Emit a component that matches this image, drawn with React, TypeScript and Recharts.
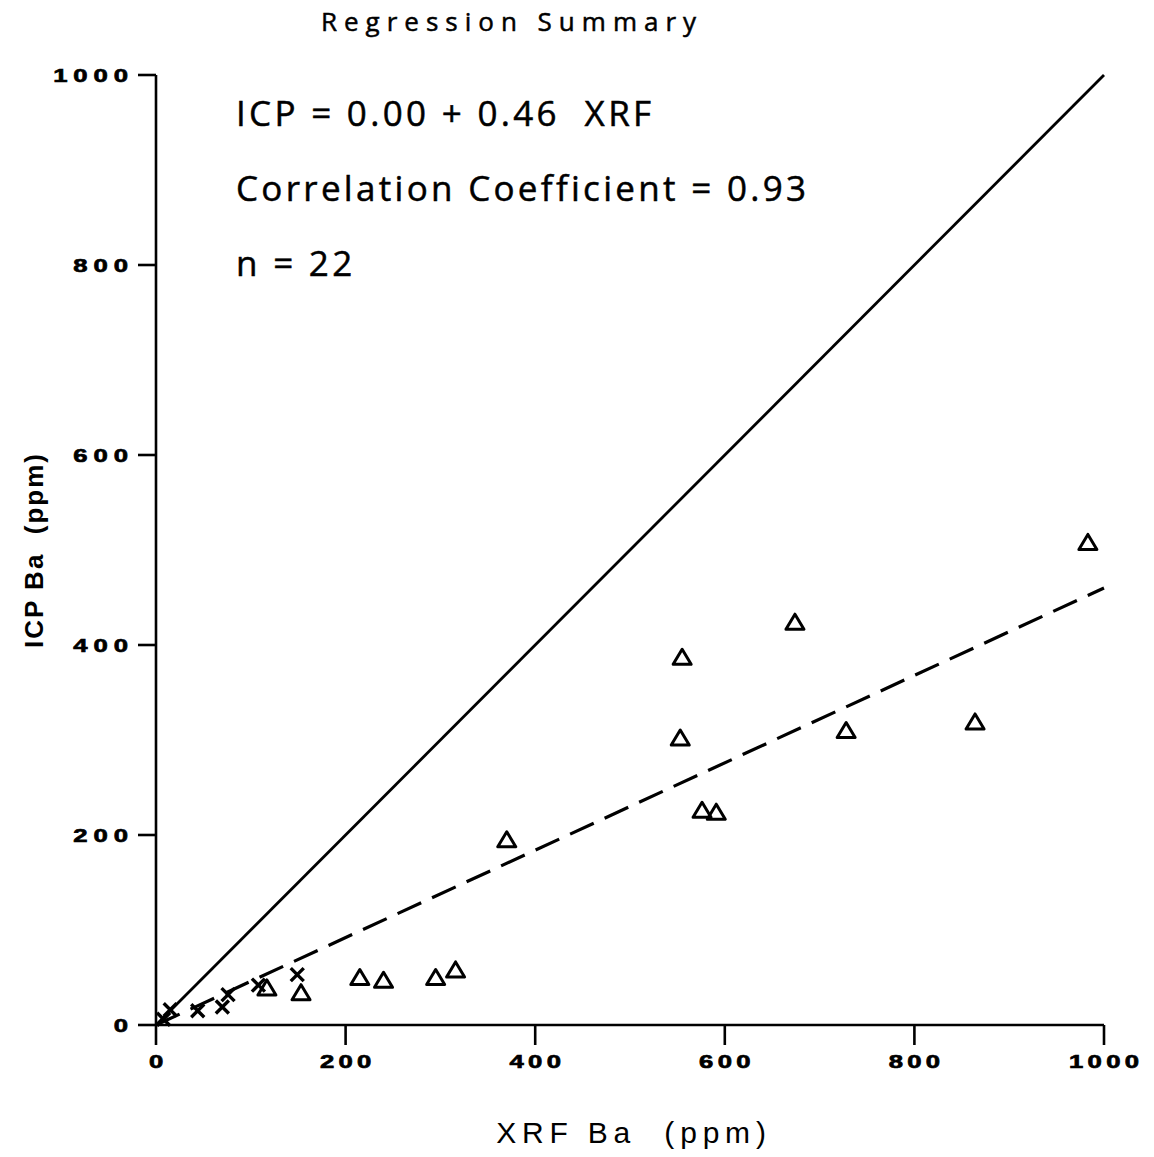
import {
  ScatterChart,
  Scatter,
  XAxis,
  YAxis,
  Label,
} from "recharts";

// readings (ppm)
const triXrf = [983, 674, 555, 553, 728, 864, 576, 591, 370, 316, 295, 240, 215, 153, 117];
const triIcp = [508, 424, 387, 302, 310, 319, 226, 224, 195, 58, 50, 47, 50, 34, 39];
const crossXrf = [8, 15, 44, 70, 76, 108, 149];
const crossIcp = [6, 16, 15, 19, 32, 42, 53];

const axisTicks = [0, 200, 400, 600, 800, 1000];
const intercept = 0.0;
const slope = 0.46;
const lineEnds = [0, 1000];

const triangles = triXrf.map((x, i) => ({ x, y: triIcp[i] }));
const crosses = crossXrf.map((x, i) => ({ x, y: crossIcp[i] }));
const oneToOne = lineEnds.map((x) => ({ x, y: x }));
const fitLine = lineEnds.map((x) => ({ x, y: intercept + slope * x }));

const W = 1138;
const H = 1141;

const Triangle = (props: any) => {
  const { cx, cy } = props;
  return (
    <path
      d={`M${cx},${cy - 8} L${cx + 9},${cy + 7} L${cx - 9},${cy + 7} Z`}
      fill="none"
      stroke="#000"
      strokeWidth={3}
      strokeLinejoin="round"
    />
  );
};

const Cross = (props: any) => {
  const { cx, cy } = props;
  const s = 6.5;
  return (
    <path
      d={`M${cx - s},${cy - s} L${cx + s},${cy + s} M${cx + s},${cy - s} L${cx - s},${cy + s}`}
      stroke="#000"
      strokeWidth={3.4}
    />
  );
};

const NoDot = () => null;

const textFont = "'Open Sans', 'Noto Sans', sans-serif";

// wide, bold tick digits like the old plotter lettering
const XTick = (props: any) => {
  const { x, y, payload } = props;
  const ls = 3.2;
  return (
    <g transform={`translate(${x},${y})`}>
      <text
        transform="scale(1.35,1)"
        textAnchor="middle"
        dx={ls / 2}
        dy="0.71em"
        fontFamily="'Liberation Sans', Arial, sans-serif"
        fontWeight={700}
        fontSize={19}
        letterSpacing={ls}
        fill="#000"
        stroke="#000"
        strokeWidth={0.7}
      >
        {payload.value}
      </text>
    </g>
  );
};

const YTick = (props: any) => {
  const { x, y, payload } = props;
  const ls = 4.4;
  return (
    <g transform={`translate(${x},${y})`}>
      <text
        transform="scale(1.35,1)"
        textAnchor="end"
        dx={ls}
        dy="0.36em"
        fontFamily="'Liberation Sans', Arial, sans-serif"
        fontWeight={700}
        fontSize={19}
        letterSpacing={ls}
        fill="#000"
        stroke="#000"
        strokeWidth={0.7}
      >
        {payload.value}
      </text>
    </g>
  );
};

export default function App() {
  return (
    <div style={{ position: "relative", width: W, height: H, background: "#fff" }}>
      <div
        style={{
          position: "absolute",
          left: 0,
          width: 1008,
          top: -5,
          textAlign: "center",
          fontFamily: textFont,
          fontSize: 26,
          letterSpacing: 7,
          color: "#000",
          whiteSpace: "nowrap",
          WebkitTextStroke: "0.5px #000",
        }}
      >
        Regression Summary
      </div>
      <div
        style={{
          position: "absolute",
          left: 228,
          top: 67,
          fontFamily: textFont,
          fontSize: 35,
          letterSpacing: 3.3,
          lineHeight: "75px",
          color: "#000",
          whiteSpace: "pre",
          WebkitTextStroke: "0.5px #000",
        }}
      >
        <div>{"ICP = 0.00 + 0.46  XRF"}</div>
        <div>{"Correlation Coefficient = 0.93"}</div>
        <div>{"n = 22"}</div>
      </div>
      <ScatterChart
        width={W}
        height={H}
        margin={{ top: 67, right: 42, bottom: 4, left: 0 }}
      >
        <XAxis
          type="number"
          dataKey="x"
          domain={[0, 1000]}
          ticks={axisTicks}
          height={120}
          tickSize={20}
          tickMargin={10}
          axisLine={{ stroke: "#000", strokeWidth: 2.6 }}
          tickLine={{ stroke: "#000", strokeWidth: 2.6 }}
          tick={<XTick />}
        >
          <Label
            value={"XRF Ba\u00a0\u00a0(ppm)"}
            position="insideBottom"
            offset={2}
            dx={4}
            style={{
              fontFamily: "'Liberation Sans', Arial, sans-serif",
              fontSize: 30,
              letterSpacing: 5.8,
              fill: "#000",
            }}
          />
        </XAxis>
        <YAxis
          type="number"
          dataKey="y"
          domain={[0, 1000]}
          ticks={axisTicks}
          width={148}
          tickSize={18}
          tickMargin={10}
          axisLine={{ stroke: "#000", strokeWidth: 2.6 }}
          tickLine={{ stroke: "#000", strokeWidth: 2.6 }}
          tick={<YTick />}
        >
          <Label
            value={"ICP Ba\u00a0\u00a0(ppm)"}
            angle={-90}
            position="insideLeft"
            offset={26}
            style={{
              textAnchor: "middle",
              fontFamily: "'Liberation Sans', Arial, sans-serif",
              fontWeight: 700,
              fontSize: 26,
              letterSpacing: 2,
              fill: "#000",
            }}
          />
        </YAxis>
        <Scatter
          data={oneToOne}
          line={{ stroke: "#000", strokeWidth: 2.8 }}
          shape={NoDot}
          isAnimationActive={false}
        />
        <Scatter
          data={fitLine}
          line={{ stroke: "#000", strokeWidth: 3.2, strokeDasharray: "26 12" }}
          shape={NoDot}
          isAnimationActive={false}
        />
        <Scatter data={triangles} shape={Triangle} isAnimationActive={false} />
        <Scatter data={crosses} shape={Cross} isAnimationActive={false} />
      </ScatterChart>
    </div>
  );
}
